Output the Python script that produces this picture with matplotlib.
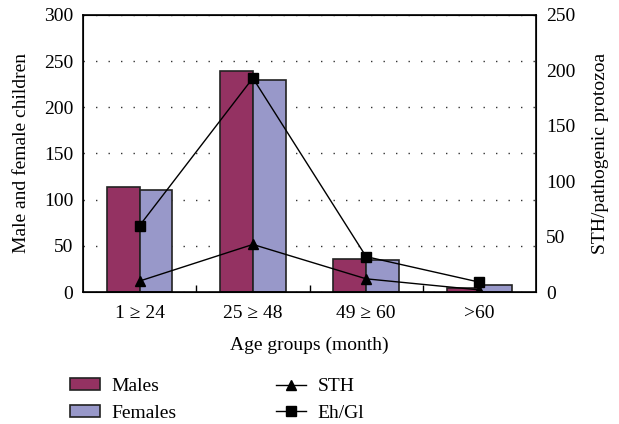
import matplotlib.pyplot as plt
import numpy as np
from matplotlib.patches import Patch
from matplotlib.lines import Line2D

plt.rcParams['font.family'] = ['Liberation Serif', 'DejaVu Serif']
plt.rcParams['font.size'] = 14

groups = ['1 \u2265 24', '25 \u2265 48', '49 \u2265 60', '>60']
males = [114, 239, 36, 5]
females = [111, 230, 35, 8]
sth = [10, 43, 12, 2]
ehgl = [60, 193, 32, 9]

male_col = '#943262'
female_col = '#9898C9'

fig = plt.figure(figsize=(6.19, 4.24), dpi=100)
ax = fig.add_axes([0.134, 0.311, 0.732, 0.654])
x = np.arange(len(groups))
w = 0.29

ax.set_axisbelow(True)
ax.bar(x - w / 2, males, w, color=male_col, edgecolor='#222222', linewidth=1.2)
ax.bar(x + w / 2, females, w, color=female_col, edgecolor='#222222', linewidth=1.2)
ax.set_ylim(0, 300)
ax.set_xlim(-0.5, len(groups) - 0.5)
ax.set_yticks(range(0, 301, 50))
ax.yaxis.grid(True, color='#333333', linestyle=(0, (1, 8)), linewidth=1)
ax.set_xticks(x)
ax.set_xticklabels(groups)
ax.set_xticks(x[:-1] + 0.5, minor=True)
ax.tick_params(axis='x', which='major', length=0, pad=9)
ax.tick_params(axis='x', which='minor', direction='in', length=5, width=1)
ax.tick_params(axis='y', length=0, pad=7)
ax.set_ylabel('Male and female children', labelpad=10)
ax.set_xlabel('Age groups (month)', labelpad=11)
for s in ax.spines.values():
    s.set_linewidth(1.2)

ax2 = ax.twinx()
ax2.plot(x, sth, color='black', linewidth=1, marker='^', markersize=6.5)
ax2.plot(x, ehgl, color='black', linewidth=1, marker='s', markersize=6.5)
ax2.set_ylim(0, 250)
ax2.set_yticks(range(0, 251, 50))
ax2.tick_params(axis='y', length=0, pad=7)
ax2.set_ylabel('STH/pathogenic protozoa', labelpad=12)

handles = [
    Patch(facecolor=male_col, edgecolor='#222222', linewidth=1.2, label='Males'),
    Patch(facecolor=female_col, edgecolor='#222222', linewidth=1.2, label='Females'),
    Line2D([], [], color='black', linewidth=1, marker='^', markersize=6.5, label='STH'),
    Line2D([], [], color='black', linewidth=1, marker='s', markersize=6.5, label='Eh/Gl'),
]
fig.legend(handles=handles, ncol=2, frameon=False, loc='lower left',
           bbox_to_anchor=(0.113, 0.005), borderpad=0, borderaxespad=0,
           columnspacing=5.1, handlelength=1.55, handleheight=0.6,
           handletextpad=0.6, labelspacing=0.5)

fig.savefig('out.png', dpi=100)
